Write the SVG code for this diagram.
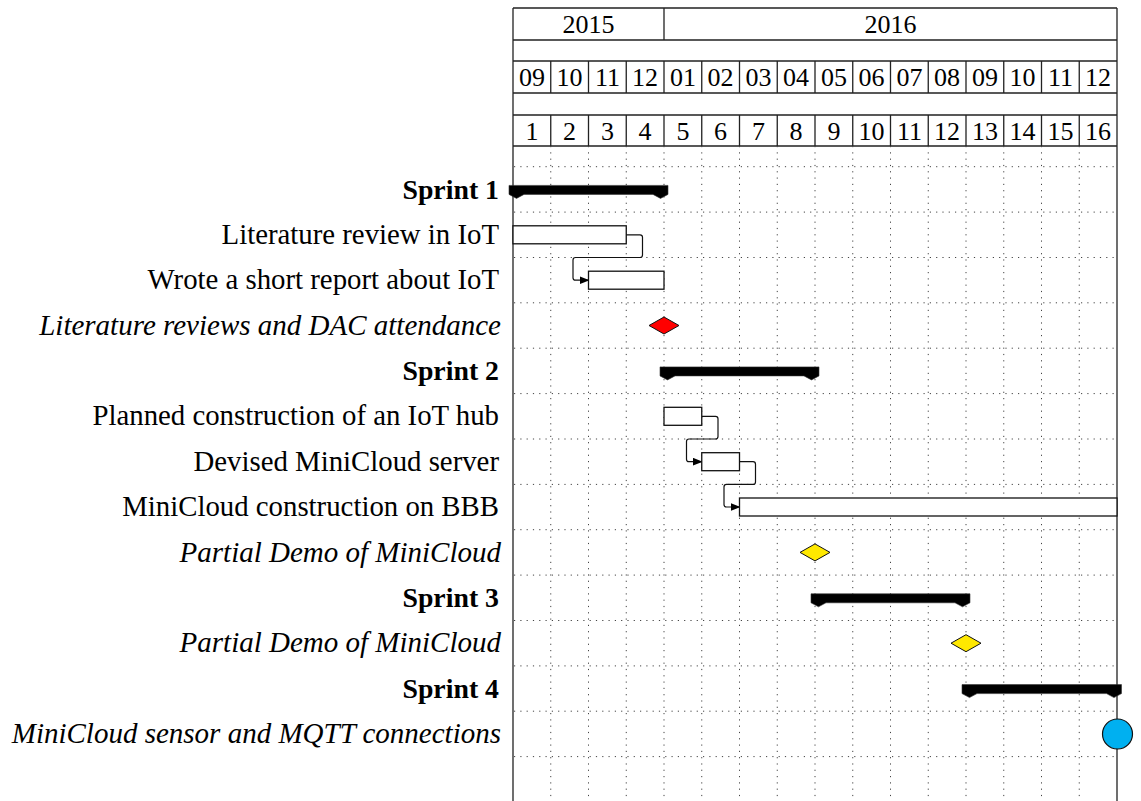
<svg xmlns="http://www.w3.org/2000/svg" width="1141" height="801" viewBox="0 0 1141 801">
  <style>
    .frame { stroke: #222; stroke-width: 1.3; fill: none; }
    .grid { stroke: #444; stroke-width: 1; stroke-dasharray: 1.2 5.1; fill: none; }
    text { font-family: 'Liberation Serif', serif; fill: #000; }
    .hdr { font-size: 26px; text-anchor: middle; }
    .lbl { font-size: 28.8px; text-anchor: end; }
    .sum { font-weight: bold; font-size: 27.8px; }
    .ms { font-style: italic; font-size: 29px; }
    .task { fill: #fff; stroke: #111; stroke-width: 1.3; }
    .summary { fill: #000; stroke: #333; stroke-width: 0.6; stroke-linejoin: round; }
    .link { fill: none; stroke: #111; stroke-width: 1.2; stroke-linejoin: round; }
  </style>
  <defs>
    <marker id="arrow" markerWidth="10" markerHeight="8" refX="9" refY="4" orient="auto" markerUnits="userSpaceOnUse">
      <path d="M0,0 L10,4 L0,8 Z" fill="#000"/>
    </marker>
  </defs>

  <rect width="1141" height="801" fill="#fff"/>

  <!-- timescale header -->
  <g id="timescale">
    <path class="frame" d="M513,8 H1117 M513,40 H1117 M513,61 H1117 M513,93 H1117 M513,115 H1117 M513,146 H1117 M513,8 V801 M1117,8 V801 M664,8 V40"/>
    <path class="frame" d="M550.75,61 V93 M588.5,61 V93 M626.25,61 V93 M664,61 V93 M701.75,61 V93 M739.5,61 V93 M777.25,61 V93 M815,61 V93 M852.75,61 V93 M890.5,61 V93 M928.25,61 V93 M966,61 V93 M1003.75,61 V93 M1041.5,61 V93 M1079.25,61 V93"/>
    <path class="frame" d="M550.75,115 V146 M588.5,115 V146 M626.25,115 V146 M664,115 V146 M701.75,115 V146 M739.5,115 V146 M777.25,115 V146 M815,115 V146 M852.75,115 V146 M890.5,115 V146 M928.25,115 V146 M966,115 V146 M1003.75,115 V146 M1041.5,115 V146 M1079.25,115 V146"/>
    <text class="hdr" x="588.5" y="33">2015</text>
    <text class="hdr" x="890.5" y="33">2016</text>
    <g>
      <text class="hdr" x="531.9" y="86">09</text><text class="hdr" x="569.6" y="86">10</text><text class="hdr" x="607.4" y="86">11</text><text class="hdr" x="645.1" y="86">12</text>
      <text class="hdr" x="682.9" y="86">01</text><text class="hdr" x="720.6" y="86">02</text><text class="hdr" x="758.4" y="86">03</text><text class="hdr" x="796.1" y="86">04</text>
      <text class="hdr" x="833.9" y="86">05</text><text class="hdr" x="871.6" y="86">06</text><text class="hdr" x="909.4" y="86">07</text><text class="hdr" x="947.1" y="86">08</text>
      <text class="hdr" x="984.9" y="86">09</text><text class="hdr" x="1022.6" y="86">10</text><text class="hdr" x="1060.4" y="86">11</text><text class="hdr" x="1098.1" y="86">12</text>
    </g>
    <g>
      <text class="hdr" x="531.9" y="140">1</text><text class="hdr" x="569.6" y="140">2</text><text class="hdr" x="607.4" y="140">3</text><text class="hdr" x="645.1" y="140">4</text>
      <text class="hdr" x="682.9" y="140">5</text><text class="hdr" x="720.6" y="140">6</text><text class="hdr" x="758.4" y="140">7</text><text class="hdr" x="796.1" y="140">8</text>
      <text class="hdr" x="833.9" y="140">9</text><text class="hdr" x="871.6" y="140">10</text><text class="hdr" x="909.4" y="140">11</text><text class="hdr" x="947.1" y="140">12</text>
      <text class="hdr" x="984.9" y="140">13</text><text class="hdr" x="1022.6" y="140">14</text><text class="hdr" x="1060.4" y="140">15</text><text class="hdr" x="1098.1" y="140">16</text>
    </g>
  </g>

  <!-- dotted grid -->
  <g id="grid">
    <path class="grid" d="M550.75,146 V801 M588.5,146 V801 M626.25,146 V801 M664,146 V801 M701.75,146 V801 M739.5,146 V801 M777.25,146 V801 M815,146 V801 M852.75,146 V801 M890.5,146 V801 M928.25,146 V801 M966,146 V801 M1003.75,146 V801 M1041.5,146 V801 M1079.25,146 V801"/>
    <path class="grid" d="M514,166.7 H1117 M514,212.1 H1117 M514,257.5 H1117 M514,302.8 H1117 M514,348.2 H1117 M514,393.6 H1117 M514,439 H1117 M514,484.4 H1117 M514,529.7 H1117 M514,575.1 H1117 M514,620.5 H1117 M514,665.9 H1117 M514,711.2 H1117 M514,756.6 H1117"/>
  </g>

  <!-- dependency links -->
  <g id="connectors">
    <path class="link" marker-end="url(#arrow)" d="M626.25,234.8 H640 Q642.5,234.8 642.5,237.3 V255 Q642.5,257.5 640,257.5 H575.5 Q573,257.5 573,260 V277.7 Q573,280.2 575.5,280.2 H588.5"/>
    <path class="link" marker-end="url(#arrow)" d="M701.75,416.3 H715.5 Q718,416.3 718,418.8 V436.5 Q718,439 715.5,439 H689 Q686.5,439 686.5,441.5 V459.2 Q686.5,461.7 689,461.7 H701.75"/>
    <path class="link" marker-end="url(#arrow)" d="M739.5,461.7 H753 Q755.5,461.7 755.5,464.2 V481.9 Q755.5,484.4 753,484.4 H726.5 Q724,484.4 724,486.9 V504.5 Q724,507 726.5,507 H739.5"/>
  </g>

  <!-- Sprint 1 -->
  <g id="sprint1">
    <text class="lbl sum" x="499" y="198.5">Sprint 1</text>
    <path class="summary" d="M509,185.4 H668 V194.4 L660.5,198.4 L653,194.4 H524 L516.5,198.4 L509,194.4 Z"/>
  </g>
  <g id="task-literature-review">
    <text class="lbl" x="499" y="243.5">Literature review in IoT</text>
    <rect class="task" x="513" y="225.8" width="113.25" height="18"/>
  </g>
  <g id="task-short-report">
    <text class="lbl" x="499" y="289">Wrote a short report about IoT</text>
    <rect class="task" x="588.5" y="271.2" width="75.5" height="18"/>
  </g>
  <g id="milestone-dac">
    <text class="lbl ms" x="501" y="334.5">Literature reviews and DAC attendance</text>
    <path d="M649,325.5 L664,317 L679,325.5 L664,334 Z" fill="#ff0000" stroke="#111" stroke-width="1"/>
  </g>

  <!-- Sprint 2 -->
  <g id="sprint2">
    <text class="lbl sum" x="499" y="380">Sprint 2</text>
    <path class="summary" d="M660,366.9 H819 V375.9 L811.5,379.9 L804,375.9 H675 L667.5,379.9 L660,375.9 Z"/>
  </g>
  <g id="task-planned-hub">
    <text class="lbl" x="499" y="425">Planned construction of an IoT hub</text>
    <rect class="task" x="664" y="407.3" width="37.75" height="18"/>
  </g>
  <g id="task-devised-server">
    <text class="lbl" x="499" y="470.5">Devised MiniCloud server</text>
    <rect class="task" x="701.75" y="452.7" width="37.75" height="18"/>
  </g>
  <g id="task-minicloud-bbb">
    <text class="lbl" x="499" y="516">MiniCloud construction on BBB</text>
    <rect class="task" x="739.5" y="498" width="377.5" height="18"/>
  </g>
  <g id="milestone-demo-1">
    <text class="lbl ms" x="501" y="561.5">Partial Demo of MiniCloud</text>
    <path d="M800,552.4 L815,543.9 L830,552.4 L815,560.9 Z" fill="#ffe800" stroke="#111" stroke-width="1"/>
  </g>

  <!-- Sprint 3 -->
  <g id="sprint3">
    <text class="lbl sum" x="499" y="607">Sprint 3</text>
    <path class="summary" d="M811,593.8 H970 V602.8 L962.5,606.8 L955,602.8 H826 L818.5,606.8 L811,602.8 Z"/>
  </g>
  <g id="milestone-demo-2">
    <text class="lbl ms" x="501" y="652">Partial Demo of MiniCloud</text>
    <path d="M951,643.2 L966,634.7 L981,643.2 L966,651.7 Z" fill="#ffe800" stroke="#111" stroke-width="1"/>
  </g>

  <!-- Sprint 4 -->
  <g id="sprint4">
    <text class="lbl sum" x="499" y="697.5">Sprint 4</text>
    <path class="summary" d="M962,684.6 H1121.5 V693.6 L1114,697.6 L1106.5,693.6 H977 L969.5,697.6 L962,693.6 Z"/>
  </g>
  <g id="milestone-mqtt">
    <text class="lbl ms" x="501" y="743">MiniCloud sensor and MQTT connections</text>
    <circle cx="1117.5" cy="734" r="15" fill="#00b0f0" stroke="#111" stroke-width="1.2"/>
  </g>
</svg>
